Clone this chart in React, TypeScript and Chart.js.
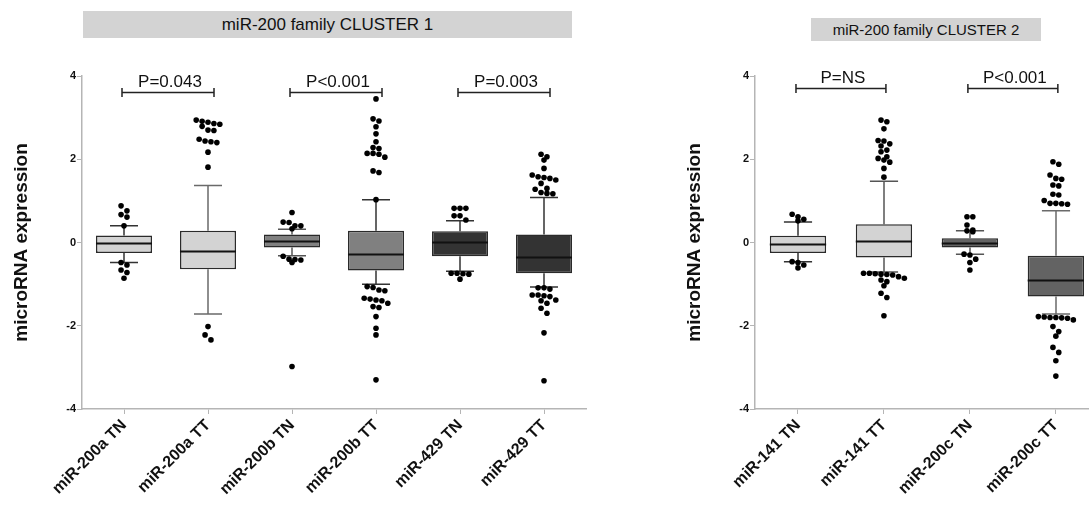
import React, { useEffect, useRef } from 'react';
import { Chart, registerables } from 'chart.js';

Chart.register(...registerables);

const FONT = '"Liberation Sans", Arial, Helvetica, sans-serif';

// ---------- CLUSTER 1 ----------
const cats1 = ['miR-200a TN', 'miR-200a TT', 'miR-200b TN', 'miR-200b TT', 'miR-429 TN', 'miR-429 TT'];
const q1Vals1 = [-0.25, -0.64, -0.12, -0.67, -0.33, -0.74];
const q3Vals1 = [0.17, 0.28, 0.19, 0.28, 0.27, 0.19];
const medVals1 = [0.0, -0.21, 0.04, -0.28, 0.02, -0.34];
const lowWhisk1 = [-0.48, -1.72, -0.32, -1.0, -0.69, -1.07];
const highWhisk1 = [0.4, 1.37, 0.32, 1.03, 0.52, 1.08];
const outliers1 = [
  [0.88, 0.76, 0.67, 0.61, 0.4, -0.48, -0.54, -0.66, -0.72, -0.86],
  [2.94, 2.91, 2.89, 2.86, 2.84, 2.79, 2.7, 2.69, 2.48, 2.44, 2.42, 2.4, 2.17, 1.81, -2.02, -2.22, -2.34],
  [0.72, 0.49, 0.48, 0.4, 0.4, 0.33, -0.33, -0.4, -0.41, -0.42, -0.48, -2.98],
  [3.45, 2.97, 2.92, 2.78, 2.61, 2.42, 2.28, 2.26, 2.14, 2.14, 2.12, 2.05, 1.72, 1.68, 1.03,
    -1.06, -1.08, -1.14, -1.16, -1.34, -1.36, -1.38, -1.4, -1.46, -1.54, -1.56, -1.78, -2.06, -2.22, -3.3],
  [0.82, 0.82, 0.82, 0.64, 0.64, 0.54, -0.74, -0.75, -0.74, -0.76, -0.88],
  [2.12, 2.06, 1.98, 1.78, 1.62, 1.58, 1.56, 1.54, 1.5, 1.42, 1.3, 1.28, 1.2, 1.18, 1.17,
    -1.09, -1.09, -1.12, -1.26, -1.26, -1.28, -1.3, -1.38, -1.4, -1.46, -1.58, -1.7, -2.17, -3.32],
];
const fills1 = ['#d3d3d3', '#d3d3d3', '#808080', '#808080', '#333333', '#333333'];
const whiskerColors1 = ['#333333', '#6a6a6a', '#555555', '#333333', '#333333', '#333333'];
const pLabels1 = ['P=0.043', 'P<0.001', 'P=0.003'];
const pFrom1 = [0, 2, 4];
const pTo1 = [1, 3, 5];
const pLevel1 = 3.62;

// ---------- CLUSTER 2 ----------
const cats2 = ['miR-141 TN', 'miR-141 TT', 'miR-200c TN', 'miR-200c TT'];
const q1Vals2 = [-0.25, -0.36, -0.12, -1.3];
const q3Vals2 = [0.16, 0.44, 0.1, -0.32];
const medVals2 = [-0.04, 0.03, -0.01, -0.89];
const lowWhisk2 = [-0.46, -0.71, -0.28, -1.72];
const highWhisk2 = [0.49, 1.47, 0.28, 0.76];
const outliers2 = [
  [0.68, 0.62, 0.56, 0.52, -0.46, -0.48, -0.54, -0.61],
  [2.94, 2.9, 2.73, 2.45, 2.44, 2.37, 2.32, 2.22, 2.18, 2.06, 2.02, 1.98, 1.93, 1.78, 1.57,
    -0.74, -0.74, -0.75, -0.76, -0.77, -0.78, -0.82, -0.86, -0.9, -0.94, -1.04, -1.22, -1.32, -1.76],
  [0.62, 0.62, 0.42, 0.3, 0.28, 0.26, -0.28, -0.3, -0.4, -0.48, -0.66],
  [1.94, 1.88, 1.62, 1.54, 1.52, 1.38, 1.36, 1.16, 1.14, 1.01, 0.94, 0.94, 0.93, 0.92,
    -1.78, -1.79, -1.8, -1.8, -1.81, -1.82, -1.86, -2.02, -2.14, -2.25, -2.52, -2.64, -2.84, -3.21],
];
const fills2 = ['#d3d3d3', '#d3d3d3', '#636363', '#636363'];
const whiskerColors2 = ['#333333', '#555555', '#555555', '#6a6a6a'];
const pLabels2 = ['P=NS', 'P<0.001'];
const pFrom2 = [0, 2];
const pTo2 = [1, 3];
const pLevel2 = 3.72;

const yTickValues = [-4, -2, 0, 2, 4];

type PanelCfg = {
  cats: string[];
  q1: number[];
  q3: number[];
  med: number[];
  lo: number[];
  hi: number[];
  outliers: number[][];
  fills: string[];
  whisk: string[];
  pLabels: string[];
  pFrom: number[];
  pTo: number[];
  pLevel: number;
  xMax: number;
  pxPerX: number;
  barPct: number;
  padRight: number;
  brPadL: number;
  brPadR: number;
};

const panel1: PanelCfg = {
  cats: cats1, q1: q1Vals1, q3: q3Vals1, med: medVals1, lo: lowWhisk1, hi: highWhisk1,
  outliers: outliers1, fills: fills1, whisk: whiskerColors1, pLabels: pLabels1, pFrom: pFrom1, pTo: pTo1, pLevel: pLevel1,
  xMax: 5.5, pxPerX: 84, barPct: 0.667, padRight: 14, brPadL: 2, brPadR: 6,
};
const panel2: PanelCfg = {
  cats: cats2, q1: q1Vals2, q3: q3Vals2, med: medVals2, lo: lowWhisk2, hi: highWhisk2,
  outliers: outliers2, fills: fills2, whisk: whiskerColors2, pLabels: pLabels2, pFrom: pFrom2, pTo: pTo2, pLevel: pLevel2,
  xMax: 3.374, pxPerX: 87, barPct: 0.655, padRight: 0, brPadL: 2, brPadR: 2,
};

// Simple beeswarm: dots with nearly equal values share a row and are spread symmetrically
function swarmOffsets(vals: number[], rowGap: number, spacing: number): number[] {
  const idx = vals.map((_, i) => i).sort((a, b) => vals[b] - vals[a]);
  const offs = new Array(vals.length).fill(0);
  let row: number[] = [];
  const flush = () => {
    row.forEach((k, j) => {
      offs[k] = (j - (row.length - 1) / 2) * spacing;
    });
    row = [];
  };
  idx.forEach((k) => {
    if (row.length && Math.abs(vals[row[0]] - vals[k]) > rowGap) flush();
    row.push(k);
  });
  flush();
  return offs;
}

function BoxPanel({ cfg, left, width }: { cfg: PanelCfg; left: number; width: number }) {
  const ref = useRef<HTMLCanvasElement>(null);

  useEffect(() => {
    if (!ref.current) return;
    const points: { x: number; y: number }[] = [];
    cfg.outliers.forEach((vals, i) => {
      const offs = swarmOffsets(vals, 0.125, 5.9 / cfg.pxPerX);
      vals.forEach((v, j) => points.push({ x: i + offs[j], y: v }));
    });

    const extras = {
      id: 'boxExtras',
      beforeDatasetsDraw(chart: any) {
        const { ctx } = chart;
        const x = chart.scales.x;
        const y = chart.scales.y;
        const meta = chart.getDatasetMeta(0);
        ctx.save();
        ctx.lineWidth = 1.5;
        cfg.lo.forEach((lo, i) => {
          const cx = Math.round(x.getPixelForValue(i));
          const w = meta.data[i].width;
          const yq1 = y.getPixelForValue(cfg.q1[i]);
          const yq3 = y.getPixelForValue(cfg.q3[i]);
          const ylo = y.getPixelForValue(lo);
          const yhi = y.getPixelForValue(cfg.hi[i]);
          ctx.strokeStyle = cfg.whisk[i];
          ctx.beginPath();
          ctx.moveTo(cx, yq3);
          ctx.lineTo(cx, yhi);
          ctx.moveTo(cx, yq1);
          ctx.lineTo(cx, ylo);
          ctx.moveTo(cx - w / 4, yhi);
          ctx.lineTo(cx + w / 4, yhi);
          ctx.moveTo(cx - w / 4, ylo);
          ctx.lineTo(cx + w / 4, ylo);
          ctx.stroke();
        });
        ctx.restore();
      },
      afterDatasetsDraw(chart: any) {
        const { ctx } = chart;
        const x = chart.scales.x;
        const y = chart.scales.y;
        const meta = chart.getDatasetMeta(0);
        ctx.save();
        ctx.strokeStyle = '#111';
        ctx.lineWidth = 1.8;
        cfg.med.forEach((m, i) => {
          const cx = x.getPixelForValue(i);
          const w = meta.data[i].width;
          const ym = Math.round(y.getPixelForValue(m)) + 0.5;
          ctx.beginPath();
          ctx.moveTo(cx - w / 2, ym);
          ctx.lineTo(cx + w / 2, ym);
          ctx.stroke();
        });
        // significance brackets
        ctx.strokeStyle = '#222';
        ctx.lineWidth = 1.5;
        ctx.fillStyle = '#111';
        ctx.font = `17px ${FONT}`;
        ctx.textAlign = 'center';
        ctx.textBaseline = 'alphabetic';
        cfg.pLabels.forEach((lab, k) => {
          const x1 = x.getPixelForValue(cfg.pFrom[k]) - cfg.brPadL;
          const x2 = x.getPixelForValue(cfg.pTo[k]) + cfg.brPadR;
          const yb = Math.round(y.getPixelForValue(cfg.pLevel)) + 0.5;
          ctx.beginPath();
          ctx.moveTo(x1, yb);
          ctx.lineTo(x2, yb);
          ctx.moveTo(x1, yb - 4.5);
          ctx.lineTo(x1, yb + 4.5);
          ctx.moveTo(x2, yb - 4.5);
          ctx.lineTo(x2, yb + 4.5);
          ctx.stroke();
          ctx.fillText(lab, (x1 + x2) / 2 + 2, yb - 6);
        });
        ctx.restore();
      },
    };

    const chart = new Chart(ref.current, {
      type: 'bar',
      data: {
        datasets: [
          {
            type: 'bar',
            data: cfg.cats.map((_, i) => ({ x: i, y: [cfg.q1[i], cfg.q3[i]] })) as any,
            backgroundColor: cfg.fills,
            borderColor: '#2a2a2a',
            borderWidth: 1.5,
            borderSkipped: false,
            barPercentage: cfg.barPct,
            categoryPercentage: 1,
            order: 2,
          } as any,
          {
            type: 'scatter',
            data: points,
            pointRadius: 2.8,
            pointBackgroundColor: '#000',
            pointBorderWidth: 0,
            order: 1,
          } as any,
        ],
      },
      options: {
        responsive: false,
        animation: false,
        events: [],
        layout: { padding: { left: 0, right: cfg.padRight, top: 76, bottom: 0 } },
        plugins: { legend: { display: false }, tooltip: { enabled: false } },
        scales: {
          x: {
            type: 'linear',
            min: -0.5,
            max: cfg.xMax,
            offset: false,
            afterBuildTicks: (s: any) => {
              s.ticks = cfg.cats.map((_, i) => ({ value: i }));
            },
            afterFit: (s: any) => {
              s.height = 99;
            },
            grid: { display: true, drawOnChartArea: false, drawTicks: true, tickLength: 5, color: '#b5b5b5', offset: false },
            border: { display: true, color: '#b5b5b5', width: 1.5 },
            ticks: {
              autoSkip: false,
              maxRotation: 45,
              minRotation: 45,
              padding: 2,
              color: '#111',
              font: { family: FONT, size: 16, weight: 'bold' },
              callback: (v: any) => cfg.cats[Math.round(Number(v))] ?? '',
            },
          },
          y: {
            type: 'linear',
            min: -4,
            max: 4,
            afterBuildTicks: (s: any) => {
              s.ticks = yTickValues.map((v) => ({ value: v }));
            },
            afterFit: (s: any) => {
              s.width = 82;
            },
            grid: { display: true, drawOnChartArea: false, drawTicks: true, tickLength: 5, color: '#b5b5b5' },
            border: { display: true, color: '#b5b5b5', width: 1.5 },
            ticks: {
              padding: 1,
              color: '#111',
              font: { family: FONT, size: 11, weight: 'bold' },
              callback: (v: any) => String(v),
            },
            title: {
              display: true,
              text: 'microRNA expression',
              color: '#111',
              font: { family: FONT, size: 19, weight: 'bold' },
              padding: { top: 10, bottom: 0 },
            },
          },
        },
      } as any,
      plugins: [extras],
    });
    return () => chart.destroy();
  }, [cfg]);

  return (
    <canvas
      ref={ref}
      width={width}
      height={508}
      style={{ position: 'absolute', left, top: 0, width, height: 508 }}
    />
  );
}

const titleBase: React.CSSProperties = {
  position: 'absolute',
  background: '#d3d3d3',
  color: '#111',
  fontFamily: FONT,
  fontSize: 17,
  textAlign: 'center',
  whiteSpace: 'nowrap',
};

export default function App() {
  return (
    <div
      style={{
        position: 'fixed',
        left: 0,
        top: 0,
        width: 1092,
        height: 508,
        overflow: 'hidden',
        background: '#fff',
      }}
    >
      <div style={{ ...titleBase, left: 83, top: 11, width: 489, height: 27, lineHeight: '27px' }}>
        miR-200 family CLUSTER 1
      </div>
      <div style={{ ...titleBase, left: 811, top: 18, width: 230, height: 23, lineHeight: '23px', fontSize: 15 }}>
        miR-200 family CLUSTER 2
      </div>
      <BoxPanel cfg={panel1} left={0} width={600} />
      <BoxPanel cfg={panel2} left={673} width={419} />
    </div>
  );
}
